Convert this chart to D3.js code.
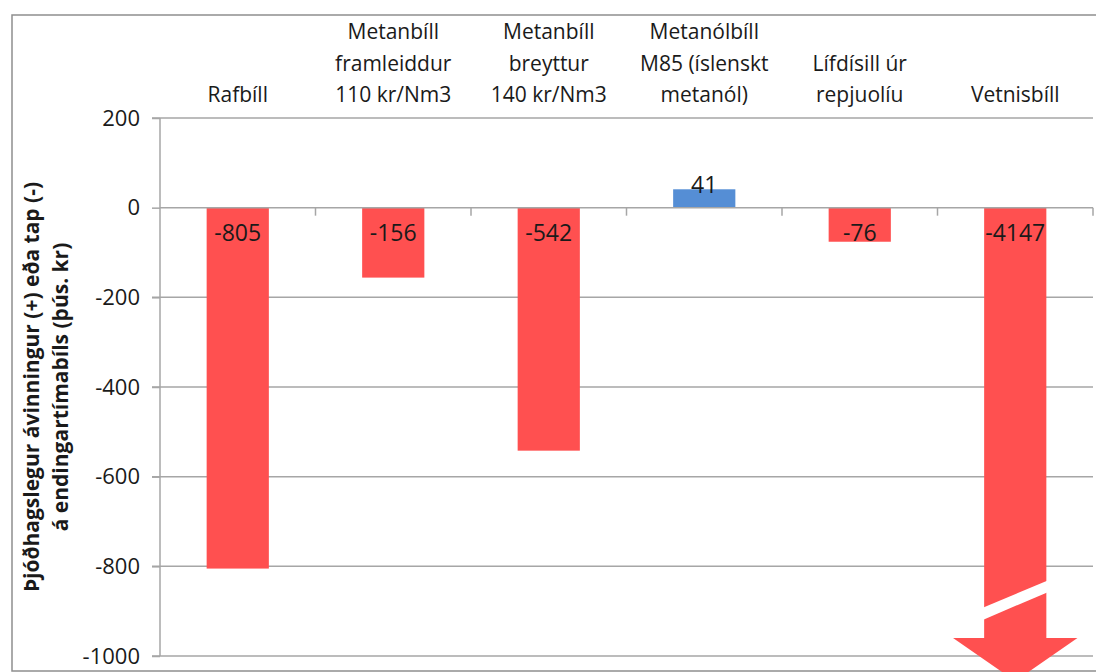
<!DOCTYPE html>
<html>
<head>
<meta charset="utf-8">
<script src="https://cdn.jsdelivr.net/npm/d3@7"></script>
<style>
  body { margin: 0; background: #fff; }
  text { font-family: "Open Sans", sans-serif; fill: #1a1a1a; }
</style>
</head>
<body>
<div id="chart"></div>
<script>
// data
const categories = [
  "Rafbíll",
  "Metanbíll\nframleiddur\n110 kr/Nm3",
  "Metanbíll\nbreyttur\n140 kr/Nm3",
  "Metanólbíll\nM85 (íslenskt\nmetanól)",
  "Lífdísill úr\nrepjuolíu",
  "Vetnisbíll"
];
const values = [-805, -156, -542, 41, -76, -4147];
const yTicks = [200, 0, -200, -400, -600, -800, -1000];
const yTitle = ["Þjóðhagslegur ávinningur (+) eða tap (-)", "á endingartímabíls (þús. kr)"];

const width = 1102, height = 672;
const plotL = 160, plotR = 1093, plotT = 118, plotB = 656;

const svg = d3.select("#chart").append("svg")
  .attr("width", width)
  .attr("height", height);

const x = d3.scaleBand().domain(categories).range([plotL, plotR])
  .paddingInner(0.6).paddingOuter(0.3);
const step = x.step();
const y = d3.scaleLinear().domain([-1000, 200]).range([plotB, plotT]);

// outer frame
svg.append("path")
  .attr("d", `M1096,15 H12 V671 H1096`)
  .attr("fill", "none").attr("stroke", "#8f8f8f").attr("stroke-width", 1.5);

// gridlines
svg.append("g").selectAll("line").data(yTicks.filter(d => d !== 0)).enter()
  .append("line")
  .attr("x1", plotL - 8).attr("x2", plotR)
  .attr("y1", d => y(d)).attr("y2", d => y(d))
  .attr("stroke", "#a6a6a6").attr("stroke-width", 1.5);

// y axis
const yAxis = svg.append("g").attr("transform", `translate(${plotL},0)`)
  .call(d3.axisLeft(y).tickValues(yTicks).tickSize(8).tickPadding(12).tickFormat(d3.format("d")));
yAxis.select(".domain").attr("stroke", "#a6a6a6").attr("stroke-width", 1.5)
  .attr("d", `M0,${plotT}V${plotB}`);
yAxis.selectAll(".tick line").attr("stroke", "#a6a6a6").attr("stroke-width", 1.5);
yAxis.selectAll(".tick text")
  .style("font-family", "'Open Sans', sans-serif")
  .style("font-size", "22px").attr("fill", "#1a1a1a")
  .text(d => d < 0 ? "-" + Math.abs(d) : d);

// y title
const yt = svg.append("text")
  .attr("transform", `translate(0,${(plotT + plotB) / 2}) rotate(-90)`)
  .attr("text-anchor", "middle")
  .style("font-size", "21px").style("font-weight", "bold");
yTitle.forEach((t, i) => yt.append("tspan").attr("x", 0).attr("y", 39 + i * 29).text(t));

// bars
const red = "#ff5050", blue = "#558ed5";
const y0 = y(0);
const minVal = y.domain()[0];

categories.forEach((c, i) => {
  const v = values[i];
  const x0 = x(c), bw = x.bandwidth();
  if (v >= minVal) {
    svg.append("rect")
      .attr("x", x0).attr("width", bw)
      .attr("y", Math.min(y(v), y0))
      .attr("height", Math.abs(y(v) - y0))
      .attr("fill", v < 0 ? red : blue);
  } else {
    // off-scale value: arrow with a break
    const headTop = y(-960), tip = y(-1056);
    const hx0 = x0 - bw / 2, hx1 = x0 + bw * 1.5;
    svg.append("path")
      .attr("d", `M${x0},${y0} H${x0 + bw} V${headTop} H${hx1} L${x0 + bw / 2},${tip} L${hx0},${headTop} H${x0} Z`)
      .attr("fill", red);
    svg.append("path")
      .attr("d", `M${x0 - 2},${y(-893)} L${x0 + bw + 2},${y(-831)} L${x0 + bw + 2},${y(-857)} L${x0 - 2},${y(-920)} Z`)
      .attr("fill", "#fff");
  }
});

// zero axis line with category ticks
svg.append("line")
  .attr("x1", plotL).attr("x2", plotR).attr("y1", y0).attr("y2", y0)
  .attr("stroke", "#a6a6a6").attr("stroke-width", 1.5);
svg.append("g").selectAll("line").data(categories).enter()
  .append("line")
  .attr("x1", d => x(d) - x.bandwidth() * 0.75 + step).attr("x2", d => x(d) - x.bandwidth() * 0.75 + step)
  .attr("y1", y0).attr("y2", y0 + 8)
  .attr("stroke", "#a6a6a6").attr("stroke-width", 1.5);

// data labels
svg.append("g").selectAll("text").data(categories).enter()
  .append("text")
  .attr("x", d => x(d) + x.bandwidth() / 2)
  .attr("y", (d, i) => values[i] < 0 ? y0 + 33 : y(values[i]) + 4)
  .attr("text-anchor", "middle")
  .style("font-size", "23px")
  .text((d, i) => values[i] < 0 ? "-" + Math.abs(values[i]) : values[i]);

// category labels at top
categories.forEach(c => {
  const lines = c.split("\n");
  const t = svg.append("text")
    .attr("text-anchor", "middle")
    .style("font-size", "21px");
  lines.forEach((l, j) => {
    t.append("tspan")
      .attr("x", x(c) + x.bandwidth() / 2)
      .attr("y", 102 - (lines.length - 1 - j) * 31.5)
      .text(l);
  });
});
</script>
</body>
</html>
